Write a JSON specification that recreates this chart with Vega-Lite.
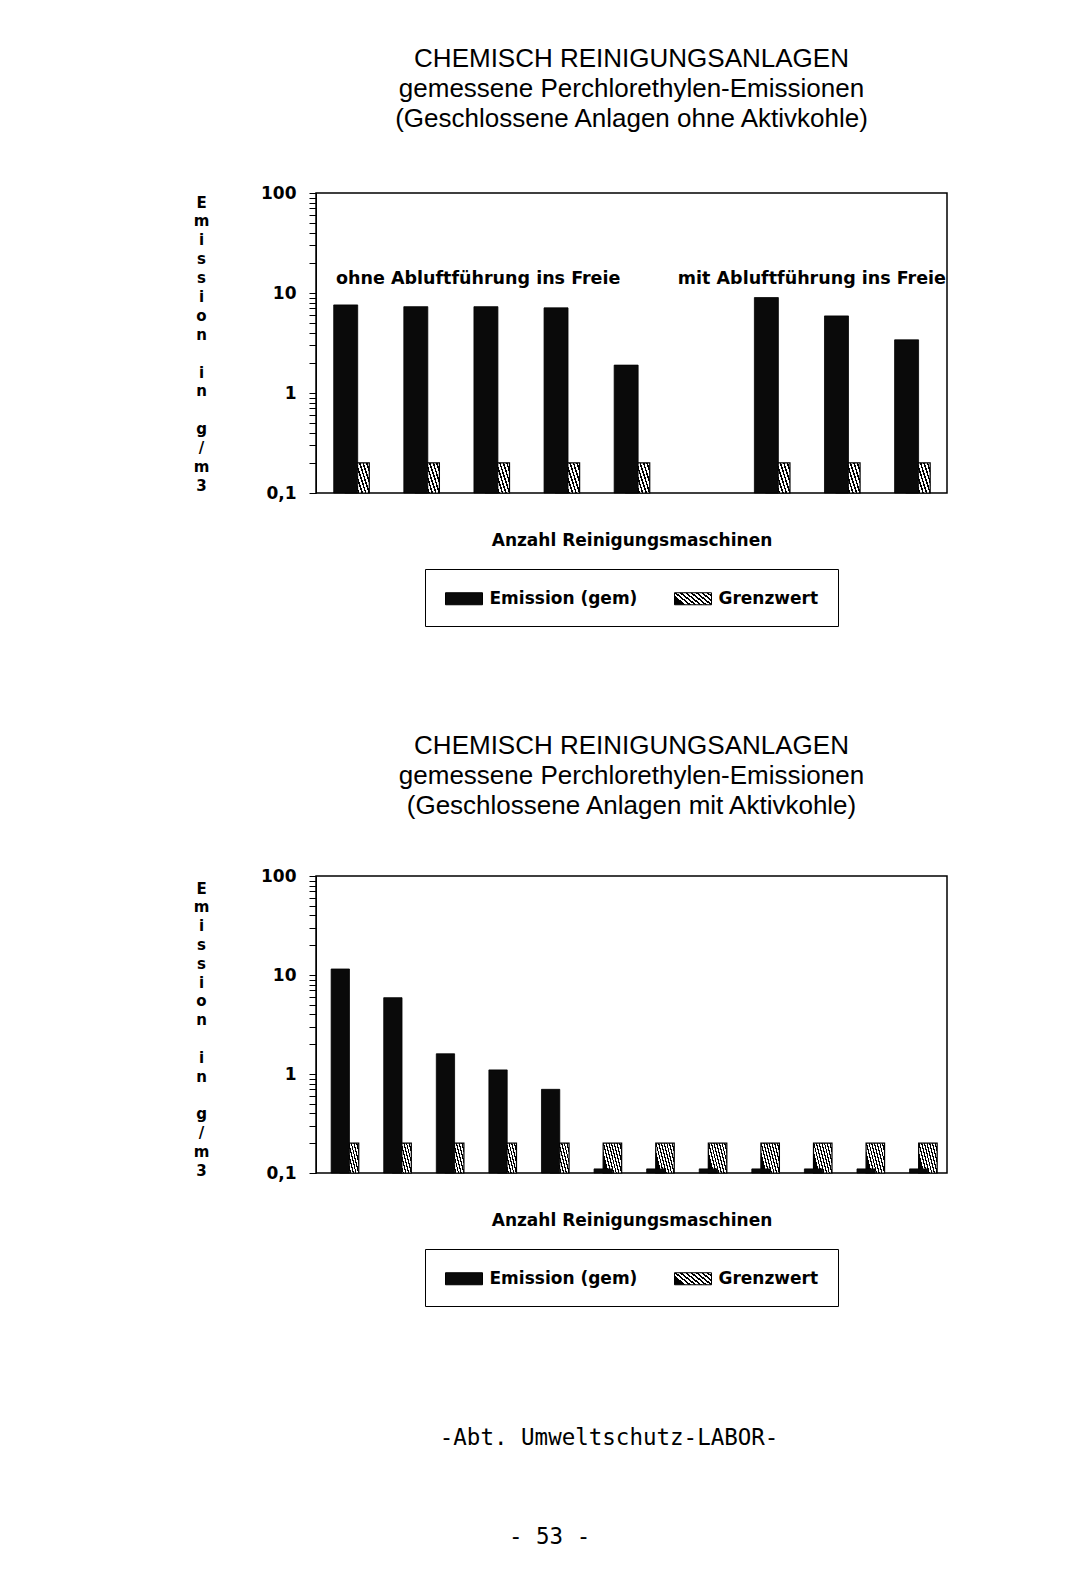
{
  "$schema": "https://vega.github.io/schema/vega-lite/v6.json",
  "background": "white",
  "padding": {"left": 192, "top": 44, "right": 0, "bottom": 0},
  "config": {
    "font": "DejaVu Sans",
    "view": {"stroke": "black", "strokeWidth": 1.5},
    "axis": {"grid": false},
    "legend": {"layout": {"bottom": {"anchor": "middle"}}}
  },
  "datasets": {
    "oben": [
      {"Nr": 1, "Reihe": "Grenzwert", "Wert": 0.2},
      {"Nr": 2, "Reihe": "Grenzwert", "Wert": 0.2},
      {"Nr": 3, "Reihe": "Grenzwert", "Wert": 0.2},
      {"Nr": 4, "Reihe": "Grenzwert", "Wert": 0.2},
      {"Nr": 5, "Reihe": "Grenzwert", "Wert": 0.2},
      {"Nr": 7, "Reihe": "Grenzwert", "Wert": 0.2},
      {"Nr": 8, "Reihe": "Grenzwert", "Wert": 0.2},
      {"Nr": 9, "Reihe": "Grenzwert", "Wert": 0.2},
      {"Nr": 1, "Reihe": "Emission (gem)", "Wert": 7.6},
      {"Nr": 2, "Reihe": "Emission (gem)", "Wert": 7.3},
      {"Nr": 3, "Reihe": "Emission (gem)", "Wert": 7.3},
      {"Nr": 4, "Reihe": "Emission (gem)", "Wert": 7.1},
      {"Nr": 5, "Reihe": "Emission (gem)", "Wert": 1.9},
      {"Nr": 7, "Reihe": "Emission (gem)", "Wert": 9.0},
      {"Nr": 8, "Reihe": "Emission (gem)", "Wert": 5.9},
      {"Nr": 9, "Reihe": "Emission (gem)", "Wert": 3.4}
    ],
    "unten": [
      {"Nr": 1, "Reihe": "Grenzwert", "Wert": 0.2},
      {"Nr": 2, "Reihe": "Grenzwert", "Wert": 0.2},
      {"Nr": 3, "Reihe": "Grenzwert", "Wert": 0.2},
      {"Nr": 4, "Reihe": "Grenzwert", "Wert": 0.2},
      {"Nr": 5, "Reihe": "Grenzwert", "Wert": 0.2},
      {"Nr": 6, "Reihe": "Grenzwert", "Wert": 0.2},
      {"Nr": 7, "Reihe": "Grenzwert", "Wert": 0.2},
      {"Nr": 8, "Reihe": "Grenzwert", "Wert": 0.2},
      {"Nr": 9, "Reihe": "Grenzwert", "Wert": 0.2},
      {"Nr": 10, "Reihe": "Grenzwert", "Wert": 0.2},
      {"Nr": 11, "Reihe": "Grenzwert", "Wert": 0.2},
      {"Nr": 12, "Reihe": "Grenzwert", "Wert": 0.2},
      {"Nr": 1, "Reihe": "Emission (gem)", "Wert": 11.5},
      {"Nr": 2, "Reihe": "Emission (gem)", "Wert": 5.9},
      {"Nr": 3, "Reihe": "Emission (gem)", "Wert": 1.6},
      {"Nr": 4, "Reihe": "Emission (gem)", "Wert": 1.1},
      {"Nr": 5, "Reihe": "Emission (gem)", "Wert": 0.7},
      {"Nr": 6, "Reihe": "Emission (gem)", "Wert": 0.11},
      {"Nr": 7, "Reihe": "Emission (gem)", "Wert": 0.11},
      {"Nr": 8, "Reihe": "Emission (gem)", "Wert": 0.11},
      {"Nr": 9, "Reihe": "Emission (gem)", "Wert": 0.11},
      {"Nr": 10, "Reihe": "Emission (gem)", "Wert": 0.11},
      {"Nr": 11, "Reihe": "Emission (gem)", "Wert": 0.11},
      {"Nr": 12, "Reihe": "Emission (gem)", "Wert": 0.11}
    ],
    "hinweise": [
      {"Nr": 1, "Wert": 13.8, "label": "ohne Abluftführung ins Freie"},
      {"Nr": 9, "Wert": 13.8, "label": "mit Abluftführung ins Freie"}
    ]
  },
  "title": {
    "text": "-Abt. Umweltschutz-LABOR-",
    "subtitle": "- 53 -\u2800\u2800\u2800\u2800\u2800\u2800\u2800",
    "orient": "bottom",
    "anchor": "middle",
    "dx": 39,
    "offset": 120,
    "font": "DejaVu Sans Mono",
    "fontSize": 22.5,
    "fontWeight": "normal",
    "color": "black",
    "subtitleFont": "DejaVu Sans Mono",
    "subtitleFontSize": 22.5,
    "subtitleColor": "black",
    "subtitlePadding": 76
  },
  "spacing": 104,
  "resolve": {
    "scale": {"x": "independent", "y": "independent", "color": "independent"},
    "legend": {"color": "independent"}
  },
  "vconcat": [
    {
      "width": 631,
      "height": 300,
      "title": {
        "text": ["CHEMISCH REINIGUNGSANLAGEN", "gemessene Perchlorethylen-Emissionen", "(Geschlossene Anlagen ohne Aktivkohle)"],
        "font": "Liberation Sans",
        "fontSize": 26,
        "fontWeight": "normal",
        "lineHeight": 30,
        "anchor": "middle",
        "offset": 52.5,
        "color": "black"
      },
      "encoding": {
        "x": {
          "field": "Nr", "type": "ordinal",
          "scale": {"domain": [1, 2, 3, 4, 5, 6, 7, 8, 9], "paddingInner": 0, "paddingOuter": 0},
          "axis": {"labels": false, "ticks": false, "domain": false, "title": "Anzahl Reinigungsmaschinen", "titleFont": "DejaVu Sans", "titleFontWeight": "bold", "titleFontSize": 17, "titlePadding": 39, "titleColor": "black"}
        },
        "y": {
          "field": "Wert", "type": "quantitative",
          "scale": {"type": "log", "domain": [0.1, 100], "nice": false},
          "axis": {
            "values": [0.1, 0.2, 0.3, 0.4, 0.5, 0.6, 0.7, 0.8, 0.9, 1, 2, 3, 4, 5, 6, 7, 8, 9, 10, 20, 30, 40, 50, 60, 70, 80, 90, 100],
            "labelExpr": "datum.value == 100 ? '100' : datum.value == 10 ? '10' : datum.value == 1 ? '1' : datum.value == 0.1 ? '0,1' : ''",
            "tickSize": 7, "tickColor": "black", "domainColor": "black", "labelPadding": 13,
            "labelFont": "DejaVu Sans", "labelFontWeight": "bold", "labelFontSize": 17, "labelColor": "black",
            "labelOverlap": false, "labelFlush": false,
            "title": ["E", "m", "i", "s", "s", "i", "o", "n", "\u2800", "i", "n", "\u2800", "g", "/", "m", "3"],
            "titleAngle": 0, "titleAlign": "center", "titleBaseline": "middle", "titleX": -115, "titleY": 9,
            "titleFont": "DejaVu Sans", "titleFontSize": 15, "titleFontWeight": "bold", "titleLineHeight": 18.9,
            "titleColor": "black"
          }
        }
      },
      "layer": [
        {
          "data": {"name": "oben"},
          "encoding": {
            "y2": {"datum": 0.1},
            "color": {
              "field": "Reihe", "type": "nominal",
              "scale": {
                "domain": ["Emission (gem)", "Grenzwert"],
                "range": ["#0a0a0a", {"expr": "{gradient:'linear',x1:0,y1:0.4,x2:1,y2:0,stops:[{offset:0,color:'#000'},{offset:0.056,color:'#000'},{offset:0.056,color:'#fff'},{offset:0.125,color:'#fff'},{offset:0.125,color:'#000'},{offset:0.181,color:'#000'},{offset:0.181,color:'#fff'},{offset:0.25,color:'#fff'},{offset:0.25,color:'#000'},{offset:0.306,color:'#000'},{offset:0.306,color:'#fff'},{offset:0.375,color:'#fff'},{offset:0.375,color:'#000'},{offset:0.431,color:'#000'},{offset:0.431,color:'#fff'},{offset:0.5,color:'#fff'},{offset:0.5,color:'#000'},{offset:0.556,color:'#000'},{offset:0.556,color:'#fff'},{offset:0.625,color:'#fff'},{offset:0.625,color:'#000'},{offset:0.681,color:'#000'},{offset:0.681,color:'#fff'},{offset:0.75,color:'#fff'},{offset:0.75,color:'#000'},{offset:0.806,color:'#000'},{offset:0.806,color:'#fff'},{offset:0.875,color:'#fff'},{offset:0.875,color:'#000'},{offset:0.931,color:'#000'},{offset:0.931,color:'#fff'},{offset:1,color:'#fff'}]}"}]
              },
              "legend": {
                "orient": "bottom", "direction": "horizontal", "title": null,
                "symbolType": "M-1.85,-0.6H1.85V0.6H-1.85Z", "symbolSize": 400, "symbolOffset": 9.5,
                "symbolStrokeColor": "black", "symbolStrokeWidth": 1, "symbolOpacity": 1,
                "labelFont": "DejaVu Sans", "labelFontWeight": "bold", "labelFontSize": 17, "labelColor": "black",
                "labelOffset": 15, "columnPadding": 34, "padding": 19, "strokeColor": "black", "offset": 21, "labelLimit": 400
              }
            }
          },
          "layer": [
            {
              "transform": [{"filter": "datum.Reihe == 'Grenzwert'"}],
              "mark": {"type": "bar", "width": {"band": 0.342}, "xOffset": 6.25, "stroke": "black", "strokeWidth": 1.2}
            },
            {
              "transform": [{"filter": "datum.Reihe == 'Emission (gem)'"}],
              "mark": {"type": "bar", "width": {"band": 0.342}, "xOffset": -5.35, "stroke": "black", "strokeWidth": 0.8}
            }
          ]
        },
        {
          "data": {"name": "hinweise"},
          "transform": [{"filter": "datum.Nr == 1"}],
          "mark": {"type": "text", "align": "left", "baseline": "middle", "dx": -15, "font": "DejaVu Sans", "fontWeight": "bold", "fontSize": 17.5, "fill": "black"},
          "encoding": {
            "text": {"field": "label", "type": "nominal"}
          }
        },
        {
          "data": {"name": "hinweise"},
          "transform": [{"filter": "datum.Nr == 9"}],
          "mark": {"type": "text", "align": "right", "baseline": "middle", "dx": 34, "font": "DejaVu Sans", "fontWeight": "bold", "fontSize": 17.5, "fill": "black"},
          "encoding": {
            "text": {"field": "label", "type": "nominal"}
          }
        }
      ]
    },
    {
      "width": 631,
      "height": 297,
      "title": {
        "text": ["CHEMISCH REINIGUNGSANLAGEN", "gemessene Perchlorethylen-Emissionen", "(Geschlossene Anlagen mit Aktivkohle)"],
        "font": "Liberation Sans",
        "fontSize": 26,
        "fontWeight": "normal",
        "lineHeight": 30,
        "anchor": "middle",
        "offset": 48,
        "color": "black"
      },
      "data": {"name": "unten"},
      "encoding": {
        "x": {
          "field": "Nr", "type": "ordinal",
          "scale": {"domain": [1, 2, 3, 4, 5, 6, 7, 8, 9, 10, 11, 12], "paddingInner": 0, "paddingOuter": 0},
          "axis": {"labels": false, "ticks": false, "domain": false, "title": "Anzahl Reinigungsmaschinen", "titleFont": "DejaVu Sans", "titleFontWeight": "bold", "titleFontSize": 17, "titlePadding": 39, "titleColor": "black"}
        },
        "y": {
          "field": "Wert", "type": "quantitative",
          "scale": {"type": "log", "domain": [0.1, 100], "nice": false},
          "axis": {
            "values": [0.1, 0.2, 0.3, 0.4, 0.5, 0.6, 0.7, 0.8, 0.9, 1, 2, 3, 4, 5, 6, 7, 8, 9, 10, 20, 30, 40, 50, 60, 70, 80, 90, 100],
            "labelExpr": "datum.value == 100 ? '100' : datum.value == 10 ? '10' : datum.value == 1 ? '1' : datum.value == 0.1 ? '0,1' : ''",
            "tickSize": 7, "tickColor": "black", "domainColor": "black", "labelPadding": 13,
            "labelFont": "DejaVu Sans", "labelFontWeight": "bold", "labelFontSize": 17, "labelColor": "black",
            "labelOverlap": false, "labelFlush": false,
            "title": ["E", "m", "i", "s", "s", "i", "o", "n", "\u2800", "i", "n", "\u2800", "g", "/", "m", "3"],
            "titleAngle": 0, "titleAlign": "center", "titleBaseline": "middle", "titleX": -115, "titleY": 12,
            "titleFont": "DejaVu Sans", "titleFontSize": 15, "titleFontWeight": "bold", "titleLineHeight": 18.8,
            "titleColor": "black"
          }
        },
        "y2": {"datum": 0.1},
        "color": {
          "field": "Reihe", "type": "nominal",
          "scale": {
            "domain": ["Emission (gem)", "Grenzwert"],
            "range": ["#0a0a0a", {"expr": "{gradient:'linear',x1:0,y1:0.4,x2:1,y2:0,stops:[{offset:0,color:'#000'},{offset:0.056,color:'#000'},{offset:0.056,color:'#fff'},{offset:0.125,color:'#fff'},{offset:0.125,color:'#000'},{offset:0.181,color:'#000'},{offset:0.181,color:'#fff'},{offset:0.25,color:'#fff'},{offset:0.25,color:'#000'},{offset:0.306,color:'#000'},{offset:0.306,color:'#fff'},{offset:0.375,color:'#fff'},{offset:0.375,color:'#000'},{offset:0.431,color:'#000'},{offset:0.431,color:'#fff'},{offset:0.5,color:'#fff'},{offset:0.5,color:'#000'},{offset:0.556,color:'#000'},{offset:0.556,color:'#fff'},{offset:0.625,color:'#fff'},{offset:0.625,color:'#000'},{offset:0.681,color:'#000'},{offset:0.681,color:'#fff'},{offset:0.75,color:'#fff'},{offset:0.75,color:'#000'},{offset:0.806,color:'#000'},{offset:0.806,color:'#fff'},{offset:0.875,color:'#fff'},{offset:0.875,color:'#000'},{offset:0.931,color:'#000'},{offset:0.931,color:'#fff'},{offset:1,color:'#fff'}]}"}]
          },
          "legend": {
            "orient": "bottom", "direction": "horizontal", "title": null,
            "symbolType": "M-1.85,-0.6H1.85V0.6H-1.85Z", "symbolSize": 400, "symbolOffset": 9.5,
            "symbolStrokeColor": "black", "symbolStrokeWidth": 1, "symbolOpacity": 1,
            "labelFont": "DejaVu Sans", "labelFontWeight": "bold", "labelFontSize": 17, "labelColor": "black",
            "labelOffset": 15, "columnPadding": 34, "padding": 19, "strokeColor": "black", "offset": 21, "labelLimit": 400
          }
        }
      },
      "layer": [
        {
          "transform": [{"filter": "datum.Reihe == 'Grenzwert'"}],
          "mark": {"type": "bar", "width": {"band": 0.352}, "xOffset": 7.2, "stroke": "black", "strokeWidth": 1.2}
        },
        {
          "transform": [{"filter": "datum.Reihe == 'Emission (gem)'"}],
          "mark": {"type": "bar", "width": {"band": 0.348}, "xOffset": -2, "stroke": "black", "strokeWidth": 0.8}
        }
      ]
    }
  ]
}
